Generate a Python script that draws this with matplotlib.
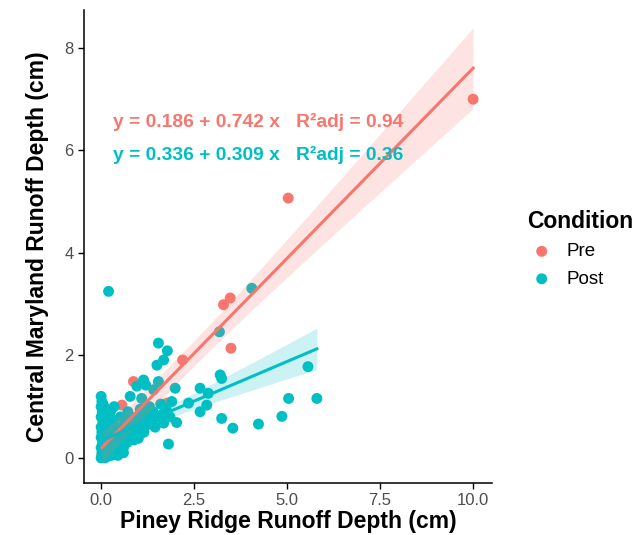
import numpy as np
import matplotlib.pyplot as plt

plt.rcParams['font.family'] = ['Liberation Sans', 'DejaVu Sans']

# Pre condition observations (cm)
pre_x = [0.02, 0.05, 0.10, 0.15, 0.20, 0.30, 0.35, 0.56, 0.87, 1.77,
         2.19, 3.29, 3.47, 3.49, 5.03, 10.0]
pre_y = [0.05, 0.10, 0.20, 0.12, 0.30, 0.25, 0.40, 1.03, 1.49, 1.07,
         1.91, 2.99, 3.12, 2.14, 5.07, 7.00]

# Post condition observations (cm)
post_x = [0.20, 4.05, 3.18, 1.54, 1.78, 1.68, 1.50, 3.20, 3.24, 5.56,
          5.04, 5.80, 4.86, 4.23, 3.54, 3.24, 1.99, 2.66, 2.88, 2.66,
          2.84, 2.35, 2.03, 1.81, 1.00, 1.14, 0.96, 1.54, 0.78, 1.09,
          1.41, 1.68, 1.20,
          0.00, 0.02, 0.00, 0.03, 0.00, 0.05, 0.00, 0.02, 0.00, 0.04,
          0.00, 0.02, 0.00, 0.06, 0.10, 0.08, 0.10, 0.12, 0.15, 0.18,
          0.20, 0.22, 0.25, 0.28, 0.30, 0.32, 0.35, 0.38, 0.40, 0.42,
          0.45, 0.48, 0.50, 0.52, 0.55, 0.58, 0.60, 0.62, 0.65, 0.68,
          0.70, 0.72, 0.75, 0.80, 0.82, 0.85, 0.88, 0.90, 0.95, 1.00,
          1.05, 1.10, 1.15, 1.20, 1.25, 1.30, 1.35, 1.40, 1.45, 1.50,
          1.60, 1.65, 1.75, 1.85, 1.90, 0.10, 0.15, 0.05, 0.25, 0.35,
          0.05, 0.08, 0.14, 0.20, 0.12, 0.18, 0.28, 0.40, 0.45, 0.60]
post_y = [3.25, 3.31, 2.46, 2.24, 2.09, 1.91, 1.81, 1.62, 1.55, 1.78,
          1.16, 1.16, 0.81, 0.66, 0.58, 0.77, 1.36, 1.36, 1.26, 0.90,
          1.03, 1.07, 0.69, 0.27, 0.38, 1.52, 1.40, 1.49, 1.20, 1.16,
          1.33, 0.68, 1.42,
          1.20, 1.10, 1.00, 0.90, 0.80, 0.70, 0.60, 0.50, 0.40, 0.30,
          0.20, 0.10, 0.00, 0.05, 0.00, 0.15, 0.35, 0.55, 0.25, 0.10,
          0.45, 0.65, 0.20, 0.05, 0.35, 0.75, 0.50, 0.15, 0.30, 0.60,
          0.05, 0.45, 0.25, 0.80, 0.40, 0.60, 0.20, 0.35, 0.70, 0.50,
          0.30, 0.90, 0.55, 0.45, 0.75, 0.65, 0.35, 0.55, 0.80, 0.60,
          0.95, 0.70, 0.50, 0.85, 0.65, 1.00, 0.75, 0.90, 0.60, 0.80,
          1.05, 0.85, 0.95, 0.80, 1.10, 0.85, 0.95, 1.05, 0.90, 1.00,
          0.45, 0.60, 0.70, 0.80, 0.02, 0.03, 0.12, 0.08, 0.18, 0.10]

# fitted equations as printed on the chart
pre_coef = (0.186, 0.742)
post_coef = (0.336, 0.309)
pre_label = 'y = 0.186 + 0.742 x   R\u00b2adj = 0.94'
post_label = 'y = 0.336 + 0.309 x   R\u00b2adj = 0.36'

red = '#F8766D'
teal = '#00BFC4'


def band(x, y, coef):
    x = np.asarray(x)
    y = np.asarray(y)
    b0, b1 = coef
    n = len(x)
    resid = y - (b0 + b1 * x)
    s = np.sqrt(np.sum(resid ** 2) / (n - 2))
    xs = np.linspace(x.min(), x.max(), 100)
    fit = b0 + b1 * xs
    se = s * np.sqrt(1 / n + (xs - x.mean()) ** 2 / np.sum((x - x.mean()) ** 2))
    return xs, fit, fit - 2.0 * se, fit + 2.0 * se


fig = plt.figure(figsize=(6.38, 5.35), dpi=100)
ax = fig.add_axes([0.1317, 0.0972, 0.639, 0.884])

ax.scatter(pre_x, pre_y, s=62, color=red, edgecolors='none', zorder=2)
ax.scatter(post_x, post_y, s=62, color=teal, edgecolors='none', zorder=2)

for xx, yy, cf, col in [(pre_x, pre_y, pre_coef, red), (post_x, post_y, post_coef, teal)]:
    xs, fit, lo, hi = band(xx, yy, cf)
    ax.fill_between(xs, lo, hi, color=col, alpha=0.2, linewidth=0, zorder=3)
    ax.plot(xs, fit, color=col, linewidth=2.2, zorder=4)

ax.text(0.32, 6.56, pre_label, color=red, fontsize=13.9, fontweight='bold', va='center', zorder=5)
ax.text(0.32, 5.91, post_label, color=teal, fontsize=13.9, fontweight='bold', va='center', zorder=5)

ax.set_xlim(-0.46, 10.5)
ax.set_ylim(-0.49, 8.74)
ax.set_xticks([0, 2.5, 5, 7.5, 10])
ax.set_xticklabels(['0.0', '2.5', '5.0', '7.5', '10.0'])
ax.set_yticks([0, 2, 4, 6, 8])
ax.tick_params(labelsize=12, labelcolor='#4D4D4D', length=4.5, width=1, pad=3)
for side in ['top', 'right']:
    ax.spines[side].set_visible(False)
for side in ['left', 'bottom']:
    ax.spines[side].set_linewidth(1.1)

ax.set_xlabel('Piney Ridge Runoff Depth (cm)', fontsize=16.5, fontweight='bold', labelpad=1)
ax.set_ylabel('Central Maryland Runoff Depth (cm)', fontsize=16.5, fontweight='bold', labelpad=11)

h1 = ax.scatter([], [], s=62, color=red, edgecolors='none')
h2 = ax.scatter([], [], s=62, color=teal, edgecolors='none')
leg = fig.legend([h1, h2], ['Pre', 'Post'], loc='center left', bbox_to_anchor=(0.805, 0.535),
                 frameon=False, fontsize=13.5, title='Condition', labelspacing=0.55,
                 handlelength=1.6, handletextpad=0.5, borderpad=0.2)
leg.get_title().set_fontweight('bold')
leg.get_title().set_fontsize(16.5)
leg._legend_box.align = 'left'

fig.savefig('out.png', dpi=100)
